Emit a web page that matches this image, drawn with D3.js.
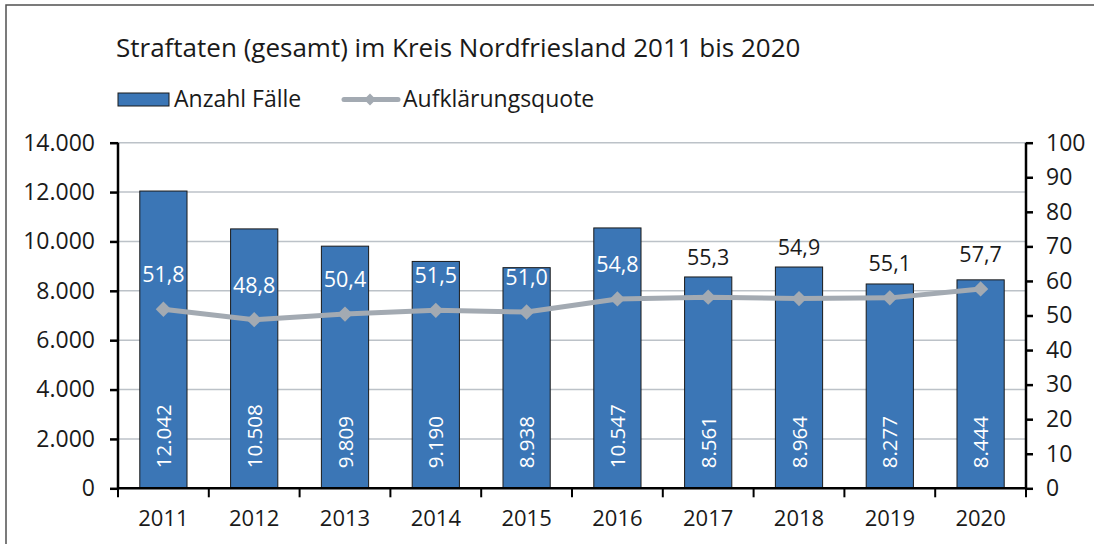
<!DOCTYPE html>
<html>
<head>
<meta charset="utf-8">
<title>Straftaten Nordfriesland</title>
<script src="https://cdn.jsdelivr.net/npm/d3@7"></script>
<style>
  body { margin: 0; background: #fff; }
  text { font-family: "Open Sans", Lato, sans-serif; fill: #1a1a1a; }
</style>
</head>
<body>
<script>
var years = ["2011", "2012", "2013", "2014", "2015", "2016", "2017", "2018", "2019", "2020"];
var faelle = [12042, 10508, 9809, 9190, 8938, 10547, 8561, 8964, 8277, 8444];
var quote = [51.8, 48.8, 50.4, 51.5, 51.0, 54.8, 55.3, 54.9, 55.1, 57.7];
var leftTicks = [0, 2000, 4000, 6000, 8000, 10000, 12000, 14000];
var rightTicks = [0, 10, 20, 30, 40, 50, 60, 70, 80, 90, 100];

var W = 1094, H = 544;
var plotL = 118, plotR = 1026, plotT = 142.7, plotB = 488.3;
var BLUE = "#3b76b6", GREY = "#a3aab2";
var FONT = "\"Open Sans\", Lato, sans-serif";

var de = d3.formatLocale({decimal: ",", thousands: ".", grouping: [3], currency: ["", " €"]});
var fmtInt = de.format(",d");
var fmtDec = de.format(",.1f");

var svg = d3.select("body").append("svg")
    .attr("width", W)
    .attr("height", H);

// frame
svg.append("rect")
    .attr("x", 6).attr("y", 5)
    .attr("width", W + 20).attr("height", H + 20)
    .attr("fill", "none")
    .attr("stroke", "#505050")
    .attr("stroke-width", 1.5);

var x = d3.scaleBand().domain(years).range([plotL, plotR]).paddingInner(0.48).paddingOuter(0.24);
var xb = d3.scaleBand().domain(years).range([plotL, plotR]);
var y = d3.scaleLinear().domain([0, 14000]).range([plotB, plotT]);
var y2 = d3.scaleLinear().domain([0, 100]).range([plotB, plotT]);

// title
svg.append("text")
    .attr("x", 116).attr("y", 57)
    .style("font-size", "26px")
    .text("Straftaten (gesamt) im Kreis Nordfriesland 2011 bis 2020");

// legend
var lg = svg.append("g");
lg.append("rect")
    .attr("x", 118).attr("y", 93).attr("width", 51).attr("height", 13)
    .attr("fill", BLUE).attr("stroke", "#1a1a1a").attr("stroke-width", 1);
lg.append("text").attr("x", 174).attr("y", 107).style("font-size", "23px").text("Anzahl Fälle");
lg.append("line")
    .attr("x1", 344).attr("x2", 398).attr("y1", 99.5).attr("y2", 99.5)
    .attr("stroke", GREY).attr("stroke-width", 5).attr("stroke-linecap", "round");
lg.append("path")
    .attr("d", d3.symbol(d3.symbolDiamond2, 90)())
    .attr("transform", "translate(370,99.5)")
    .attr("fill", GREY);
lg.append("text").attr("x", 403).attr("y", 107).style("font-size", "23px").text("Aufklärungsquote");

// grid
svg.append("g").selectAll("line")
    .data(leftTicks.slice(1))
    .join("line")
    .attr("x1", plotL).attr("x2", plotR)
    .attr("y1", function(d) { return y(d); })
    .attr("y2", function(d) { return y(d); })
    .attr("stroke", "#bcc2c8").attr("stroke-width", 1.5);

// bars
svg.append("g").selectAll("rect")
    .data(faelle)
    .join("rect")
    .attr("x", function(d, i) { return x(years[i]); })
    .attr("y", function(d) { return y(d); })
    .attr("width", x.bandwidth())
    .attr("height", function(d) { return plotB - y(d); })
    .attr("fill", BLUE)
    .attr("stroke", "#1a1a1a")
    .attr("stroke-width", 1);

// bar value labels (rotated)
svg.append("g").selectAll("text")
    .data(faelle)
    .join("text")
    .attr("transform", function(d, i) {
      return "translate(" + (x(years[i]) + x.bandwidth() / 2 + 7.5) + "," + (plotB - 20) + ") rotate(-90)";
    })
    .style("font-size", "20.5px")
    .style("fill", "#fff")
    .text(function(d) { return fmtInt(d); });

// axes
var axL = svg.append("g")
    .attr("transform", "translate(" + plotL + ",0)")
    .call(d3.axisLeft(y).tickValues(leftTicks).tickFormat(fmtInt).tickSize(8).tickPadding(15));
var axR = svg.append("g")
    .attr("transform", "translate(" + plotR + ",0)")
    .call(d3.axisRight(y2).tickValues(rightTicks).tickSize(7).tickPadding(13));
var axB = svg.append("g")
    .attr("transform", "translate(0," + plotB + ")")
    .call(d3.axisBottom(xb).tickSize(0));
axB.selectAll(".tick text").attr("dy", 0).attr("y", 38);
axB.append("g").selectAll("line")
    .data(years.concat(["end"]))
    .join("line")
    .attr("x1", function(d, i) { return plotL + i * xb.bandwidth(); })
    .attr("x2", function(d, i) { return plotL + i * xb.bandwidth(); })
    .attr("y1", 0).attr("y2", 9)
    .attr("stroke", "#000").attr("stroke-width", 2);

[axL, axR, axB].forEach(function(a) {
  a.select(".domain").attr("stroke", "#000").attr("stroke-width", 2.5);
  a.selectAll(".tick line").attr("stroke", "#000").attr("stroke-width", 2.5);
  a.selectAll(".tick text").style("font-size", "23px").style("fill", "#1a1a1a")
    .style("font-family", FONT);
});
axB.selectAll(".tick text").style("font-size", "22px");
axL.select(".domain").attr("d", "M0," + plotT + "V" + plotB);
axR.select(".domain").attr("d", "M0," + plotT + "V" + plotB);
axB.select(".domain").attr("d", "M" + plotL + ",0H" + plotR);

// line
var cx = function(i) { return xb(years[i]) + xb.bandwidth() / 2; };
svg.append("path")
    .datum(quote)
    .attr("d", d3.line().x(function(d, i) { return cx(i); }).y(function(d) { return y2(d); }))
    .attr("fill", "none")
    .attr("stroke", GREY)
    .attr("stroke-width", 5);
svg.append("g").selectAll("path")
    .data(quote)
    .join("path")
    .attr("d", d3.symbol(d3.symbolDiamond2, 150)())
    .attr("transform", function(d, i) { return "translate(" + cx(i) + "," + y2(d) + ")"; })
    .attr("fill", GREY);

// line labels: white when inside the bar, otherwise black and kept clear of the bar top
function labelY(d, i) {
  var base = y2(d) - 27, barTop = y(faelle[i]);
  if (base - 16 > barTop) return base;
  return Math.min(base, barTop - 12);
}
svg.append("g").selectAll("text")
    .data(quote)
    .join("text")
    .attr("x", function(d, i) { return cx(i); })
    .attr("y", labelY)
    .attr("text-anchor", "middle")
    .style("font-size", "21.5px")
    .style("fill", function(d, i) {
      return (y2(d) - 27 - 16) > y(faelle[i]) ? "#fff" : "#1a1a1a";
    })
    .text(function(d) { return fmtDec(d); });
</script>
</body>
</html>
